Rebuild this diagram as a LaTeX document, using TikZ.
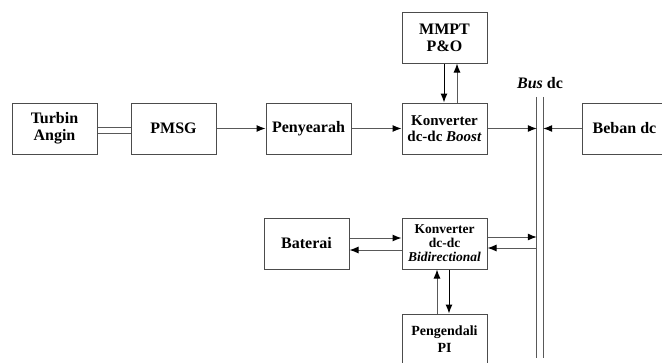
\documentclass[tikz,border=0pt]{standalone}
\usepackage{fontspec}
\setmainfont{Liberation Serif}
\usetikzlibrary{arrows.meta,calc}
\begin{document}
\begin{tikzpicture}[x=1pt,y=-1pt,
  blk/.style={draw=black!70,line width=1pt,minimum width=85pt,minimum height=51pt,inner sep=1pt,align=center,font=\fontsize{16}{17}\selectfont\bfseries},
  conn/.style={draw=black!65,line width=1pt,-{Latex[length=9pt,width=7pt,color=black]}},
  connk/.style={conn,draw=black}
]
\useasboundingbox (0,0) rectangle (662,362);
\clip (0,0) rectangle (662,362);
\node[blk] (turbin) at (54.5,128.5) {Turbin\\Angin};
\node[blk] (pmsg) at (173.5,128.5) {PMSG};
\node[blk] (peny) at (308.5,128.5) {Penyearah};
\node[blk,font=\fontsize{15}{16}\selectfont\bfseries] (boost) at (444.5,128.5) {Konverter\\dc-dc \textit{Boost}};
\node[blk] (mmpt) at (444.5,37.5) {MMPT\\P\&O};
\node[blk] (beban) at (624.5,128.5) {Beban dc};
\node[blk,font=\fontsize{13.5}{14}\selectfont\bfseries] (bidir) at (444.5,243.5) {Konverter\\dc-dc\\\textit{Bidirectional}};
\node[blk] (baterai) at (306.5,243.5) {Baterai};
\node[blk,font=\fontsize{14}{17}\selectfont\bfseries,text depth=0pt] (pi) at (444.5,339.5) {Pengendali\\PI};
\node[minimum width=6pt,minimum height=261pt,inner sep=0pt] (bus) at (540,227.5) {};
\draw[black!65,line width=1pt] (bus.north west) -- (bus.south west) (bus.north east) -- (bus.south east);
\node[font=\fontsize{16}{17}\selectfont\bfseries] (buslabel) at (540,83) {\textit{Bus} dc};
% double shaft
\draw[black!65,line width=1pt] ($(turbin.east)+(0,-1.5)$) -- ($(pmsg.west)+(0,-1.5)$);
\draw[black!65,line width=1pt] ($(turbin.east)+(0,4.5)$) -- ($(pmsg.west)+(0,4.5)$);
% main chain
\draw[conn] (pmsg.east) -- (peny.west);
\draw[conn] (peny.east) -- (boost.west);
\draw[conn] (boost.east) -- (boost.east -| bus.west);
\draw[conn] (beban.west) -- (beban.west -| bus.east);
% MPPT
\draw[connk] ($(mmpt.south)+(-0.5,0)$) -- ($(boost.north)+(-0.5,0)$);
\draw[conn] ($(boost.north)+(12.5,0)$) -- ($(mmpt.south)+(12.5,0)$);
% battery
\draw[conn] ($(baterai.east)+(0,-5.5)$) -- ($(bidir.west)+(0,-5.5)$);
\draw[conn] ($(bidir.west)+(0,6.5)$) -- ($(baterai.east)+(0,6.5)$);
\draw[conn] ($(bidir.east)+(0,-6.5)$) -- ($(bidir.east -| bus.west)+(0,-6.5)$);
\draw[conn] ($(bidir.east -| bus.west)+(0,4.5)$) -- ($(bidir.east)+(0,4.5)$);
% PI
\draw[conn] ($(pi.north)+(-7.5,0)$) -- ($(bidir.south)+(-7.5,0)$);
\draw[connk] ($(bidir.south)+(4.5,0)$) -- ($(pi.north)+(4.5,0)$);
\end{tikzpicture}
\end{document}
